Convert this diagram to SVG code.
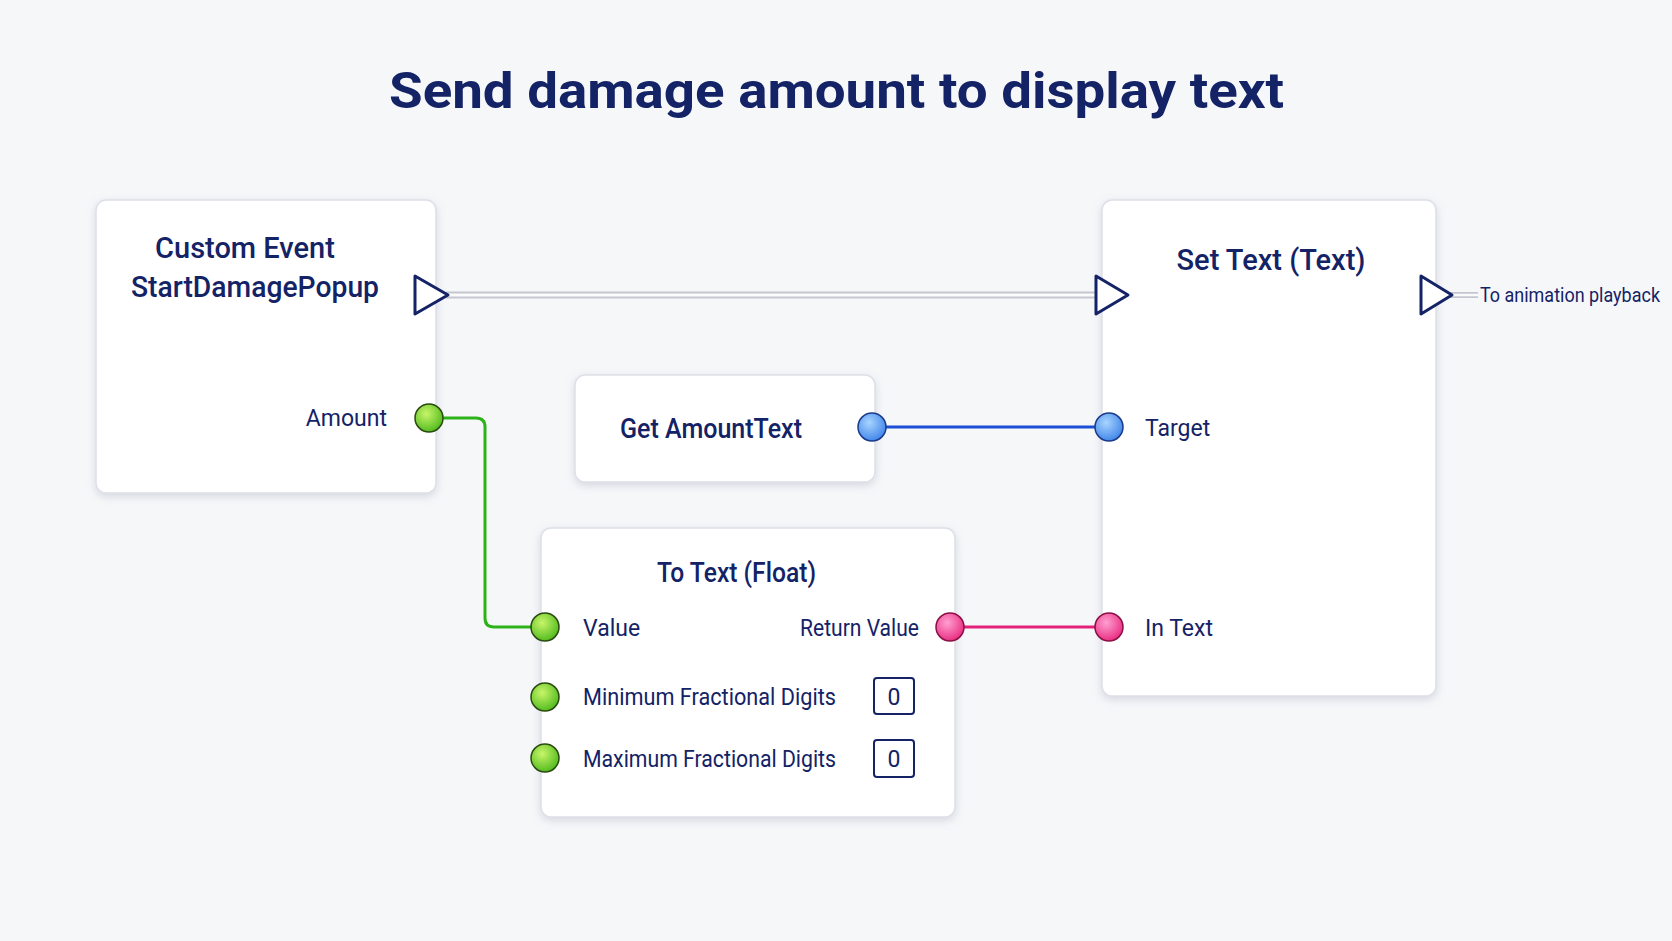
<svg xmlns="http://www.w3.org/2000/svg" width="1672" height="941" viewBox="0 0 1672 941">
<defs>
<filter id="sh" x="-10%" y="-10%" width="120%" height="130%"><feDropShadow dx="0" dy="3" stdDeviation="4" flood-color="#8890a8" flood-opacity="0.3"/></filter>
<radialGradient id="gG" cx="0.4" cy="0.35" r="0.7"><stop offset="0" stop-color="#c8f56a"/><stop offset="1" stop-color="#4cb81a"/></radialGradient>
<radialGradient id="gB" cx="0.4" cy="0.35" r="0.7"><stop offset="0" stop-color="#a8d4ff"/><stop offset="1" stop-color="#3c82e8"/></radialGradient>
<radialGradient id="gP" cx="0.4" cy="0.35" r="0.7"><stop offset="0" stop-color="#ff9fd0"/><stop offset="1" stop-color="#e8287e"/></radialGradient>
</defs>
<style>
.n{fill:#fff;stroke:#dde0e8;stroke-width:1.5}
.t{font-family:Roboto,"Liberation Sans",sans-serif;fill:#142266}
.h{font-size:29px;font-weight:500}
.l{font-size:23px}
.ex{fill:#fff;stroke:#142266;stroke-width:3;stroke-linejoin:round}
.pin{stroke:#2a4a10;stroke-width:1.5}
.box{fill:#fff;stroke:#142266;stroke-width:2}
</style>
<rect width="1672" height="941" fill="#f6f7f9"/>
<text x="389" y="108" textLength="895" lengthAdjust="spacingAndGlyphs" class="t" style="font-size:50px;font-weight:700">Send damage amount to display text</text>
<g id="connectors" fill="none">
<line x1="446" y1="295" x2="1097" y2="295" stroke="#c4c7d0" stroke-width="7"/>
<line x1="446" y1="295" x2="1097" y2="295" stroke="#fbfbfc" stroke-width="3"/>
<line x1="1450" y1="295" x2="1478" y2="295" stroke="#c4c7d0" stroke-width="6"/>
<line x1="1450" y1="295" x2="1478" y2="295" stroke="#fbfbfc" stroke-width="2.5"/>
<path d="M429 418 H476 Q485 418 485 427 V618 Q485 627 494 627 H545" stroke="#2db31a" stroke-width="3"/>
<line x1="872" y1="427" x2="1109" y2="427" stroke="#1a4fd6" stroke-width="3"/>
<line x1="950" y1="627" x2="1109" y2="627" stroke="#e3207a" stroke-width="3"/>
</g>
<g id="custom-event">
<rect x="96" y="200" width="340" height="293" rx="10" class="n" filter="url(#sh)"/>
<text x="245" y="258" text-anchor="middle" class="t h">Custom Event</text>
<text x="131" y="297" textLength="248" lengthAdjust="spacingAndGlyphs" class="t h">StartDamagePopup</text>
<path d="M415 276 L448 295 L415 314 Z" class="ex"/>
<text x="387" y="426" text-anchor="end" class="t l">Amount</text>
<circle cx="429" cy="418" r="14" fill="url(#gG)" class="pin"/>
</g>
<g id="set-text">
<rect x="1102" y="200" width="334" height="496" rx="10" class="n" filter="url(#sh)"/>
<text x="1271" y="270" text-anchor="middle" class="t h">Set Text (Text)</text>
<path d="M1096 276 L1128 295 L1096 314 Z" class="ex"/>
<path d="M1421 276 L1452 295 L1421 314 Z" class="ex"/>
<text x="1480" y="302" textLength="180" lengthAdjust="spacingAndGlyphs" class="t" style="font-size:21px">To animation playback</text>
<circle cx="1109" cy="427" r="14" fill="url(#gB)" stroke="#1a3a8a" stroke-width="1.5"/>
<text x="1145" y="436" class="t l">Target</text>
<circle cx="1109" cy="627" r="14" fill="url(#gP)" stroke="#8a1046" stroke-width="1.5"/>
<text x="1145" y="636" class="t l">In Text</text>
</g>
<g id="get-amounttext">
<rect x="575" y="375" width="300" height="107" rx="10" class="n" filter="url(#sh)"/>
<text x="620" y="438" textLength="182" lengthAdjust="spacingAndGlyphs" class="t h" style="font-size:27px">Get AmountText</text>
<circle cx="872" cy="427" r="14" fill="url(#gB)" stroke="#1a3a8a" stroke-width="1.5"/>
</g>
<g id="to-text-float">
<rect x="541" y="528" width="414" height="289" rx="10" class="n" filter="url(#sh)"/>
<text x="657" y="582" textLength="159" lengthAdjust="spacingAndGlyphs" class="t h" style="font-size:27px">To Text (Float)</text>
<circle cx="545" cy="627" r="14" fill="url(#gG)" class="pin"/>
<text x="583" y="636" class="t l">Value</text>
<text x="800" y="636" textLength="119" lengthAdjust="spacingAndGlyphs" class="t l">Return Value</text>
<circle cx="950" cy="627" r="14" fill="url(#gP)" stroke="#8a1046" stroke-width="1.5"/>
<circle cx="545" cy="697" r="14" fill="url(#gG)" class="pin"/>
<text x="583" y="705" textLength="253" lengthAdjust="spacingAndGlyphs" class="t l">Minimum Fractional Digits</text>
<rect x="874" y="678" width="40" height="36" rx="3" class="box"/>
<text x="894" y="705" text-anchor="middle" class="t l">0</text>
<circle cx="545" cy="758" r="14" fill="url(#gG)" class="pin"/>
<text x="583" y="767" textLength="253" lengthAdjust="spacingAndGlyphs" class="t l">Maximum Fractional Digits</text>
<rect x="874" y="740" width="40" height="37" rx="3" class="box"/>
<text x="894" y="767" text-anchor="middle" class="t l">0</text>
</g>
</svg>
